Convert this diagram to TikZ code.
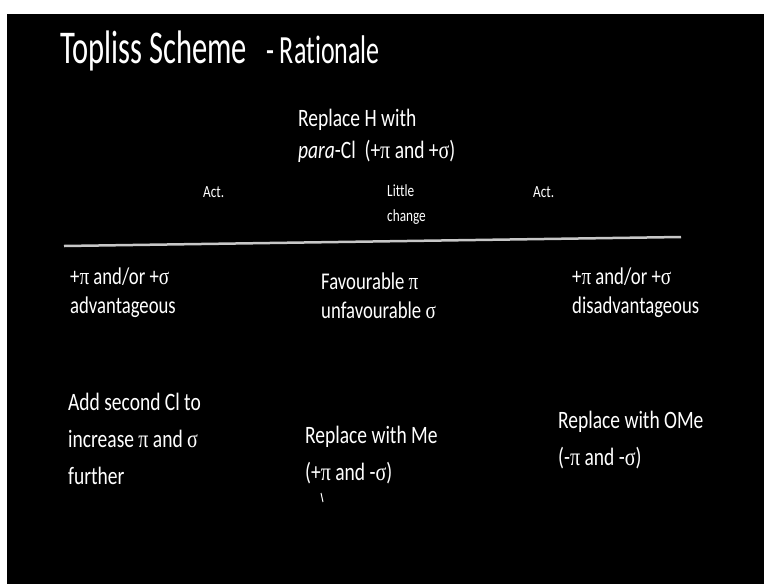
\documentclass[tikz,border=0pt]{standalone}
\usepackage{fontspec}
\setmainfont[FakeStretch=0.78, Ligatures=NoCommon]{Carlito}
\newfontfamily\titlefont[FakeStretch=0.65, Ligatures=NoCommon]{Carlito}
\newfontfamily\greekfont[FakeStretch=0.8]{Liberation Serif}
\newcommand{\gpi}{{\greekfont π}}
\newcommand{\gsig}{{\greekfont σ}}
\usetikzlibrary{positioning}

\begin{document}
\begin{tikzpicture}[
    x=1pt, y=-1pt,
    txt/.style={text=white, inner sep=0pt, anchor=base west, align=left, font=\fontsize{24}{29}\selectfont},
    lowtxt/.style={txt, font=\fontsize{25}{37}\selectfont},
    smalltxt/.style={txt, font=\fontsize{17}{25}\selectfont},
    rule/.style={draw=white!78!black, line width=2.5pt}
]
\useasboundingbox (0,0) rectangle (764,584);
\fill[white] (0,0) rectangle (764,584);
\fill[black] (7,14) rectangle (764,584);

% title
\node[txt, font=\titlefont\fontsize{47}{50}\selectfont] (title) at (60,63)
    {Topliss Scheme\hspace{19pt}{\fontsize{40}{44}\selectfont - Rationale}};

% first step (base = last line)
\node[txt, font=\fontsize{25}{32}\selectfont] (start) at (298,158)
    {Replace H with\\ \textit{para}-Cl\ \ (+\gpi{} and +\gsig)};
\node[smalltxt] (actL) at (203,197) {Act.};
\node[smalltxt] (little) at (387,221) {Little\\change};
\node[smalltxt] (actR) at (533,197) {Act.};

\coordinate (ruleL) at (64,246);
\coordinate (ruleR) at (681,237);
\draw[rule] (ruleL) -- (ruleR);

% what it tells us
\node[txt] (adv) at (70,313) {+\gpi{} and/or +\gsig\\advantageous};
\node[txt] (mixed) at (321,318) {Favourable \gpi\\unfavourable \gsig};
\node[txt] (disadv) at (572,313) {+\gpi{} and/or +\gsig\\disadvantageous};

% next step
\node[lowtxt] (secondCl) at (68,484) {Add second Cl to\\increase \gpi{} and \gsig\\further};
\node[lowtxt] (methyl) at (305,480) {Replace with Me\\(+\gpi{} and -\gsig)};
\node[lowtxt] (methoxy) at (558,465) {Replace with OMe\\(-\gpi{} and -\gsig)};

\coordinate (tickA) at (321,493);
\coordinate (tickB) at (323,502);
\draw[white, line width=1pt] (tickA) -- (tickB);
\end{tikzpicture}
\end{document}
